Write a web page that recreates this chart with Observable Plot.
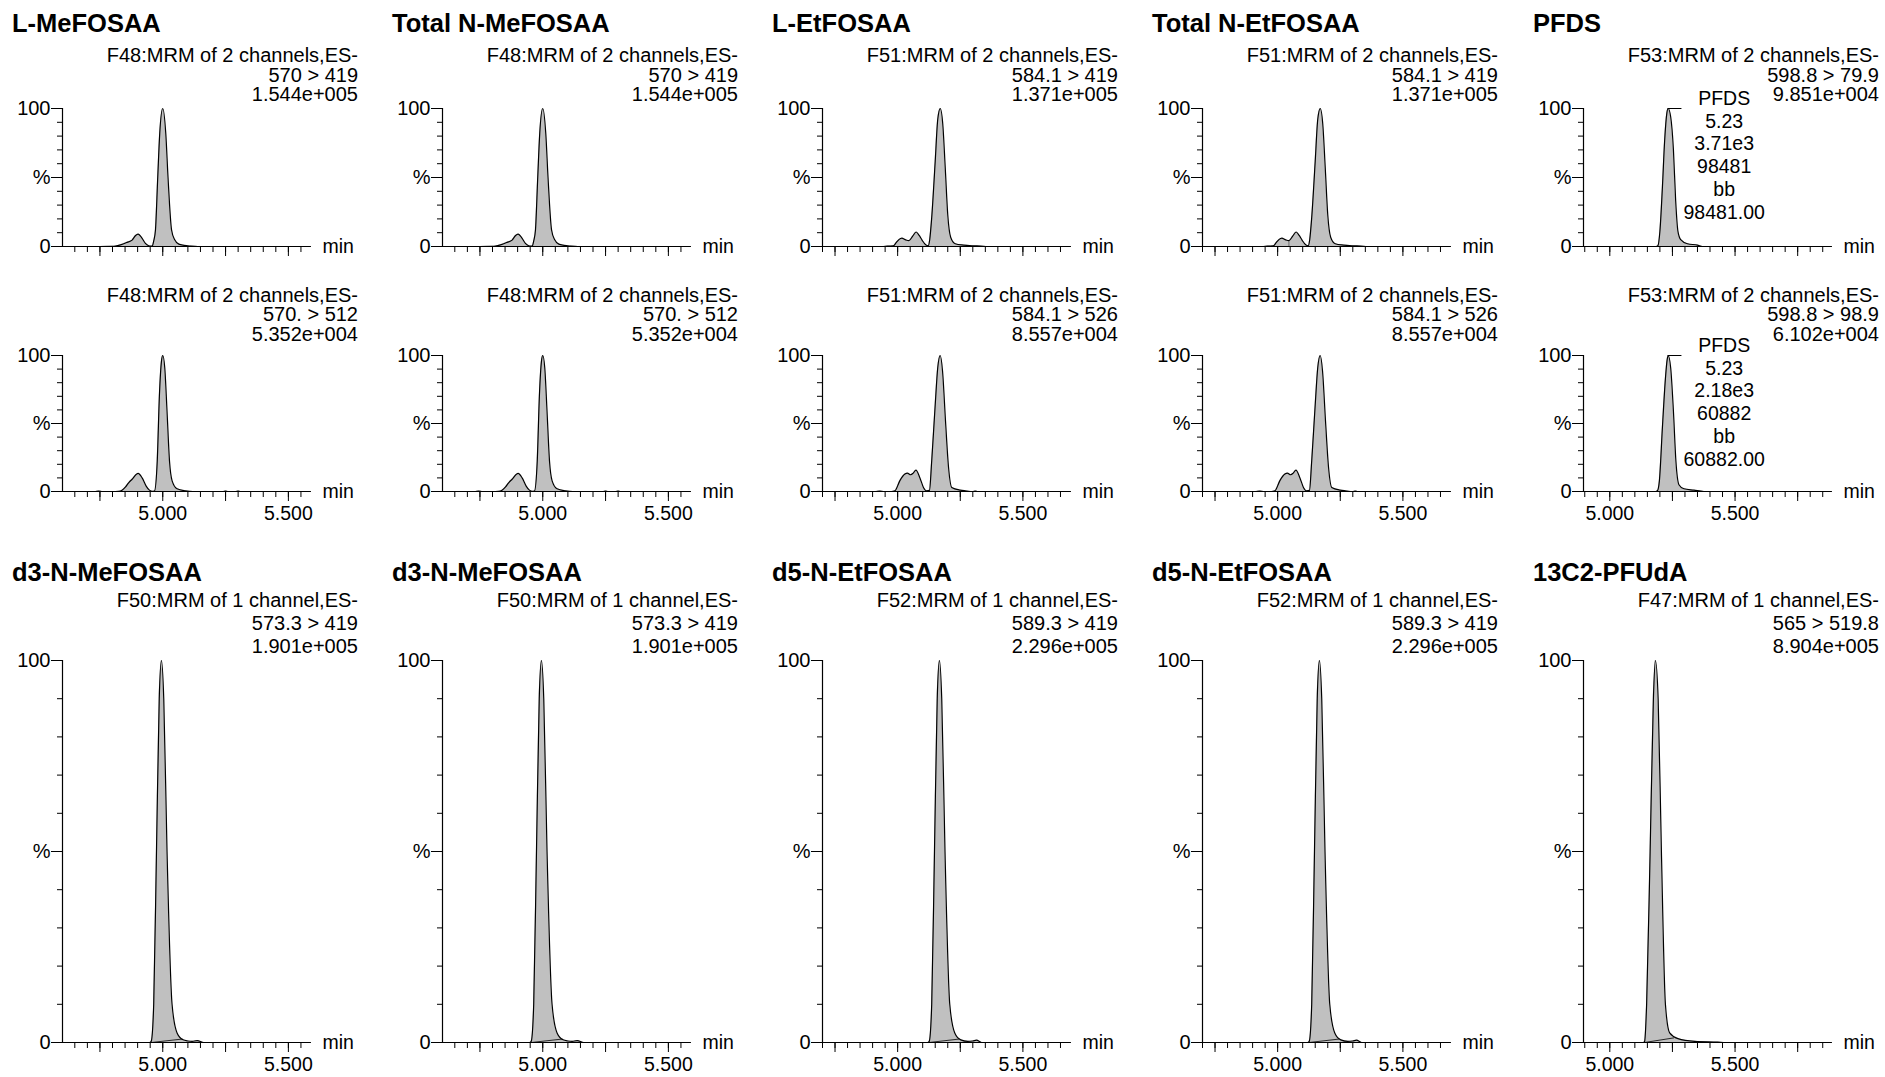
<!DOCTYPE html>
<html>
<head>
<meta charset="utf-8">
<script src="https://cdn.jsdelivr.net/npm/d3@7"></script>
<script src="https://cdn.jsdelivr.net/npm/@observablehq/plot@0.6"></script>
<style>
  body { margin: 0; background: #fff; }
  #root { position: relative; width: 1885px; height: 1077px; overflow: hidden; background: #fff;
          font-family: "Liberation Sans", Arial, Helvetica, sans-serif; }
</style>
</head>
<body>
<div id="root"></div>
<script>
// ---------------- DATA ----------------
const titlesTop = ["L-MeFOSAA", "Total N-MeFOSAA", "L-EtFOSAA", "Total N-EtFOSAA", "PFDS"];
const titlesBottom = ["d3-N-MeFOSAA", "d3-N-MeFOSAA", "d5-N-EtFOSAA", "d5-N-EtFOSAA", "13C2-PFUdA"];

const headMe419 = ["F48:MRM of 2 channels,ES-", "570 > 419", "1.544e+005"];
const headMe512 = ["F48:MRM of 2 channels,ES-", "570. > 512", "5.352e+004"];
const headEt419 = ["F51:MRM of 2 channels,ES-", "584.1 > 419", "1.371e+005"];
const headEt526 = ["F51:MRM of 2 channels,ES-", "584.1 > 526", "8.557e+004"];
const headPf799 = ["F53:MRM of 2 channels,ES-", "598.8 > 79.9", "9.851e+004"];
const headPf989 = ["F53:MRM of 2 channels,ES-", "598.8 > 98.9", "6.102e+004"];
const headD3 = ["F50:MRM of 1 channel,ES-", "573.3 > 419", "1.901e+005"];
const headD5 = ["F52:MRM of 1 channel,ES-", "589.3 > 419", "2.296e+005"];
const headPfuda = ["F47:MRM of 1 channel,ES-", "565 > 519.8", "8.904e+005"];

// time windows (min) per column group
const domainMe = [4.601, 5.588];
const domainEt = [4.700, 5.690];
const domainPf = [4.895, 5.885];

// chromatogram traces: retention time (min) and relative intensity (%)
const me419_t = [4.60, 4.75, 4.80, 4.812, 4.832, 4.858, 4.878, 4.891, 4.902, 4.914, 4.931, 4.944, 4.952, 4.958, 4.964, 4.971, 4.980, 4.988, 5.000, 5.012, 5.021, 5.035, 5.047, 5.064, 5.085, 5.110, 5.14, 5.588];
const me419_y = [0, 0, 0.1, 0.3, 1.2, 3.0, 4.6, 7.8, 9.0, 7.0, 2.2, 0.5, 0.2, 0.4, 4, 12, 50, 82, 100, 82, 50, 12, 5, 1.7, 0.8, 0.3, 0, 0];

const me512_t = [4.60, 4.73, 4.745, 4.76, 4.80, 4.825, 4.838, 4.852, 4.865, 4.878, 4.902, 4.918, 4.934, 4.947, 4.958, 4.967, 4.978, 4.987, 4.995, 5.000, 5.008, 5.017, 5.027, 5.037, 5.057, 5.090, 5.12, 5.24, 5.25, 5.26, 5.29, 5.30, 5.31, 5.588];
const me512_y = [0, 0, 0.3, 0, 0, 0.2, 1, 3.4, 6.6, 9, 13.3, 10, 4, 1, 0.1, 0.3, 22, 72, 96, 100, 91, 59, 22, 8, 2, 0.5, 0, 0, 0.3, 0, 0, 0.3, 0, 0];

const et419_t = [4.70, 4.94, 4.96, 4.982, 4.995, 5.005, 5.017, 5.030, 5.045, 5.060, 5.074, 5.086, 5.098, 5.112, 5.122, 5.128, 5.136, 5.150, 5.160, 5.170, 5.180, 5.190, 5.200, 5.212, 5.230, 5.263, 5.30, 5.33, 5.36, 5.690];
const et419_y = [0, 0, 0.3, 0.4, 3.0, 5.0, 6.0, 5.0, 4.2, 7.5, 10.5, 8.0, 4.5, 1.2, 0.5, 5, 21, 62, 92, 100, 89, 57, 23, 6.5, 2, 1, 0.5, 0.3, 0, 0];

const et526_t = [4.70, 4.91, 4.929, 4.945, 4.975, 4.989, 5.009, 5.029, 5.039, 5.052, 5.062, 5.073, 5.089, 5.103, 5.116, 5.127, 5.136, 5.150, 5.160, 5.170, 5.179, 5.191, 5.203, 5.216, 5.25, 5.27, 5.30, 5.31, 5.32, 5.690];
const et526_y = [0, 0, 0.3, 0, 0, 0.5, 8, 12.8, 13.5, 12.3, 13.5, 15.7, 10, 3, 0.5, 0.8, 22.6, 64, 91, 100, 89, 52, 18, 3, 1, 0.5, 0, 0.3, 0, 0];

const pf799_t = [4.895, 5.185, 5.192, 5.200, 5.210, 5.219, 5.228, 5.233, 5.243, 5.254, 5.263, 5.272, 5.283, 5.310, 5.350, 5.370, 5.885];
const pf799_y = [0, 0, 0.5, 11, 43, 77, 97, 100, 94, 70, 33, 11, 5, 2, 1, 0, 0];

const pf989_t = [4.895, 5.183, 5.190, 5.198, 5.210, 5.222, 5.229, 5.233, 5.243, 5.254, 5.264, 5.276, 5.296, 5.336, 5.376, 5.885];
const pf989_y = [0, 0, 0.5, 8, 47, 83, 97, 100, 91, 59, 22, 5, 2, 1, 0, 0];

const d3_t = [4.60, 4.948, 4.954, 4.964, 4.975, 4.986, 4.995, 5.004, 5.017, 5.037, 5.057, 5.081, 5.10, 5.117, 5.137, 5.163, 5.588];
const d3_y = [0, 0, 0.3, 10, 50, 90, 100, 90, 50, 10, 2.5, 0.7, 0.4, 0.3, 0.5, 0, 0];
const d3_base_t = [4.955, 5.077];
const d3_base_y = [0, 0.9];

const d5_t = [4.70, 5.120, 5.126, 5.136, 5.147, 5.158, 5.167, 5.176, 5.189, 5.208, 5.228, 5.252, 5.28, 5.30, 5.315, 5.335, 5.690];
const d5_y = [0, 0, 0.3, 10, 50, 90, 100, 90, 50, 10, 2.5, 0.7, 0.3, 0.4, 0.6, 0, 0];
const d5_base_t = [5.126, 5.245];
const d5_base_y = [0, 0.9];

const pfuda_t = [4.895, 5.135, 5.139, 5.147, 5.161, 5.174, 5.182, 5.193, 5.206, 5.222, 5.239, 5.272, 5.339, 5.431, 5.46, 5.885];
const pfuda_y = [0, 0, 0.3, 10, 50, 90, 100, 90, 50, 10, 2.5, 1, 0.3, 0.1, 0, 0];
const pfuda_base_t = [5.139, 5.255];
const pfuda_base_y = [0, 1.2];

// peak labels (PFDS)
const pfdsLabel1 = {t: 5.233, v: 100, lines: ["PFDS", "5.23", "3.71e3", "98481", "bb", "98481.00"]};
const pfdsLabel2 = {t: 5.233, v: 100, lines: ["PFDS", "5.23", "2.18e3", "60882", "bb", "60882.00"]};

// drop line between unresolved peaks (Total N-EtFOSAA)
const etDrop = {t: 5.045, v: 4.2};

// axis ticks / labels
const yMinorTicks = [10, 20, 30, 40, 60, 70, 80, 90];
const yLabelTicks = [0, 50, 100];
const yLabelText = ["0", "%", "100"];
const xLabelTicks = [5.0, 5.5];
const xUnit = ["min"];

// ---------------- LAYOUT ----------------
const FONT = '"Liberation Sans", Arial, Helvetica, sans-serif';
const colX = [62, 442, 822, 1202, 1583];
const rowY100 = [108, 355, 660];
const rowY0 = [246, 491, 1042];
const PW = 248;
const ML = 60, MR = 85, MT = 30, MB = 45;
const LEADER = 0.055;
const root = document.getElementById("root");

function makePanel({col, row, t, y, domain, base, label, drop, xLabels}) {
  const data = t.map((d, i) => ({t: d, v: y[i]}));
  const minor = d3.range(Math.ceil(domain[0] * 20), Math.floor(domain[1] * 20) + 1).map(k => k / 20);
  const major = d3.range(Math.ceil(domain[0] * 4), Math.floor(domain[1] * 4) + 1).map(k => k / 4);
  const h = rowY0[row] - rowY100[row] + MT + MB;
  const marks = [
    Plot.areaY(data, {x: "t", y: "v", fill: "#c0c0c0", curve: "monotone-x"}),
    base ? Plot.line(base.t.map((d, i) => [d, base.y[i]]), {stroke: "#000", strokeWidth: 0.8}) : null,
    drop ? Plot.ruleX([drop], {x: "t", y1: 0, y2: "v", stroke: "#555", strokeWidth: 0.8}) : null,
    Plot.lineY(data, {x: "t", y: "v", stroke: "#000", strokeWidth: 1.2, curve: "monotone-x"}),
    Plot.ruleX([domain[0]], {stroke: "#000", strokeWidth: 1.2}),
    Plot.ruleY([0], {stroke: "#000", strokeWidth: 1.2}),
    Plot.axisY({ticks: yMinorTicks, tickSize: 5, tickFormat: () => "", label: null}),
    Plot.axisY({ticks: yLabelTicks, tickSize: 11, tickPadding: 1, label: null, fontSize: 20,
      tickFormat: d => yLabelText[yLabelTicks.indexOf(d)]}),
    Plot.axisX({ticks: minor, tickSize: 6, tickFormat: () => "", label: null}),
    Plot.axisX({ticks: major, tickSize: 10, tickFormat: () => "", label: null}),
    xLabels ? Plot.axisX({ticks: xLabelTicks, tickSize: 0, tickPadding: 15, tickFormat: d3.format(".3f"), label: null, fontSize: 19.5}) : null,
    Plot.text(xUnit, {frameAnchor: "bottom-right", dx: 12, textAnchor: "start", lineAnchor: "middle", fontSize: 19.5}),
    label ? Plot.ruleY([label], {y: "v", x1: "t", x2: d => d.t + LEADER, stroke: "#000", strokeWidth: 1}) : null,
    label ? Plot.text([label], {x: "t", y: "v", text: d => d.lines.join("\n"), dx: 56, dy: -20,
      lineAnchor: "top", lineHeight: 1.17, fontSize: 19.5, textAnchor: "middle"}) : null
  ].filter(m => m != null);
  const svg = Plot.plot({
    width: ML + PW + MR, height: h,
    marginLeft: ML, marginRight: MR, marginTop: MT, marginBottom: MB,
    x: {domain},
    y: {domain: [0, 100]},
    style: {fontFamily: FONT, fontSize: "18px", color: "#000", background: "transparent", overflow: "visible"},
    marks
  });
  svg.style.position = "absolute";
  svg.style.left = (colX[col] - ML) + "px";
  svg.style.top = (rowY100[row] - MT) + "px";
  svg.style.maxWidth = "none";
  root.appendChild(svg);
}

const panels = [
  {col: 0, row: 0, t: me419_t, y: me419_y, domain: domainMe, head: headMe419},
  {col: 1, row: 0, t: me419_t, y: me419_y, domain: domainMe, head: headMe419},
  {col: 2, row: 0, t: et419_t, y: et419_y, domain: domainEt, head: headEt419},
  {col: 3, row: 0, t: et419_t, y: et419_y, domain: domainEt, head: headEt419, drop: etDrop},
  {col: 4, row: 0, t: pf799_t, y: pf799_y, domain: domainPf, head: headPf799, label: pfdsLabel1},
  {col: 0, row: 1, t: me512_t, y: me512_y, domain: domainMe, head: headMe512, xLabels: true},
  {col: 1, row: 1, t: me512_t, y: me512_y, domain: domainMe, head: headMe512, xLabels: true},
  {col: 2, row: 1, t: et526_t, y: et526_y, domain: domainEt, head: headEt526, xLabels: true},
  {col: 3, row: 1, t: et526_t, y: et526_y, domain: domainEt, head: headEt526, xLabels: true},
  {col: 4, row: 1, t: pf989_t, y: pf989_y, domain: domainPf, head: headPf989, label: pfdsLabel2, xLabels: true},
  {col: 0, row: 2, t: d3_t, y: d3_y, domain: domainMe, head: headD3, base: {t: d3_base_t, y: d3_base_y}, xLabels: true},
  {col: 1, row: 2, t: d3_t, y: d3_y, domain: domainMe, head: headD3, base: {t: d3_base_t, y: d3_base_y}, xLabels: true},
  {col: 2, row: 2, t: d5_t, y: d5_y, domain: domainEt, head: headD5, base: {t: d5_base_t, y: d5_base_y}, xLabels: true},
  {col: 3, row: 2, t: d5_t, y: d5_y, domain: domainEt, head: headD5, base: {t: d5_base_t, y: d5_base_y}, xLabels: true},
  {col: 4, row: 2, t: pfuda_t, y: pfuda_y, domain: domainPf, head: headPfuda, base: {t: pfuda_base_t, y: pfuda_base_y}, xLabels: true}
];
panels.forEach(makePanel);

// ---------------- TEXT OVERLAY (titles & channel headers) ----------------
const ov = d3.select(root).append("svg")
  .attr("width", 1885).attr("height", 1077)
  .style("position", "absolute").style("left", "0px").style("top", "0px")
  .style("font-family", FONT).style("pointer-events", "none");

const titleBaseline = {0: 32, 2: 581};
const headBaselines = [[62, 81.5, 101], [302, 321, 340.5], [607, 630, 653]];

titlesTop.forEach((s, c) => ov.append("text").attr("x", colX[c] - 50).attr("y", titleBaseline[0])
  .attr("font-size", 25.5).attr("font-weight", "bold").text(s));
titlesBottom.forEach((s, c) => ov.append("text").attr("x", colX[c] - 50).attr("y", titleBaseline[2])
  .attr("font-size", 25.5).attr("font-weight", "bold").text(s));

panels.forEach(p => {
  p.head.forEach((s, i) => ov.append("text")
    .attr("x", colX[p.col] + 296).attr("y", headBaselines[p.row][i])
    .attr("text-anchor", "end").attr("font-size", 20).text(s));
});
</script>
</body>
</html>
